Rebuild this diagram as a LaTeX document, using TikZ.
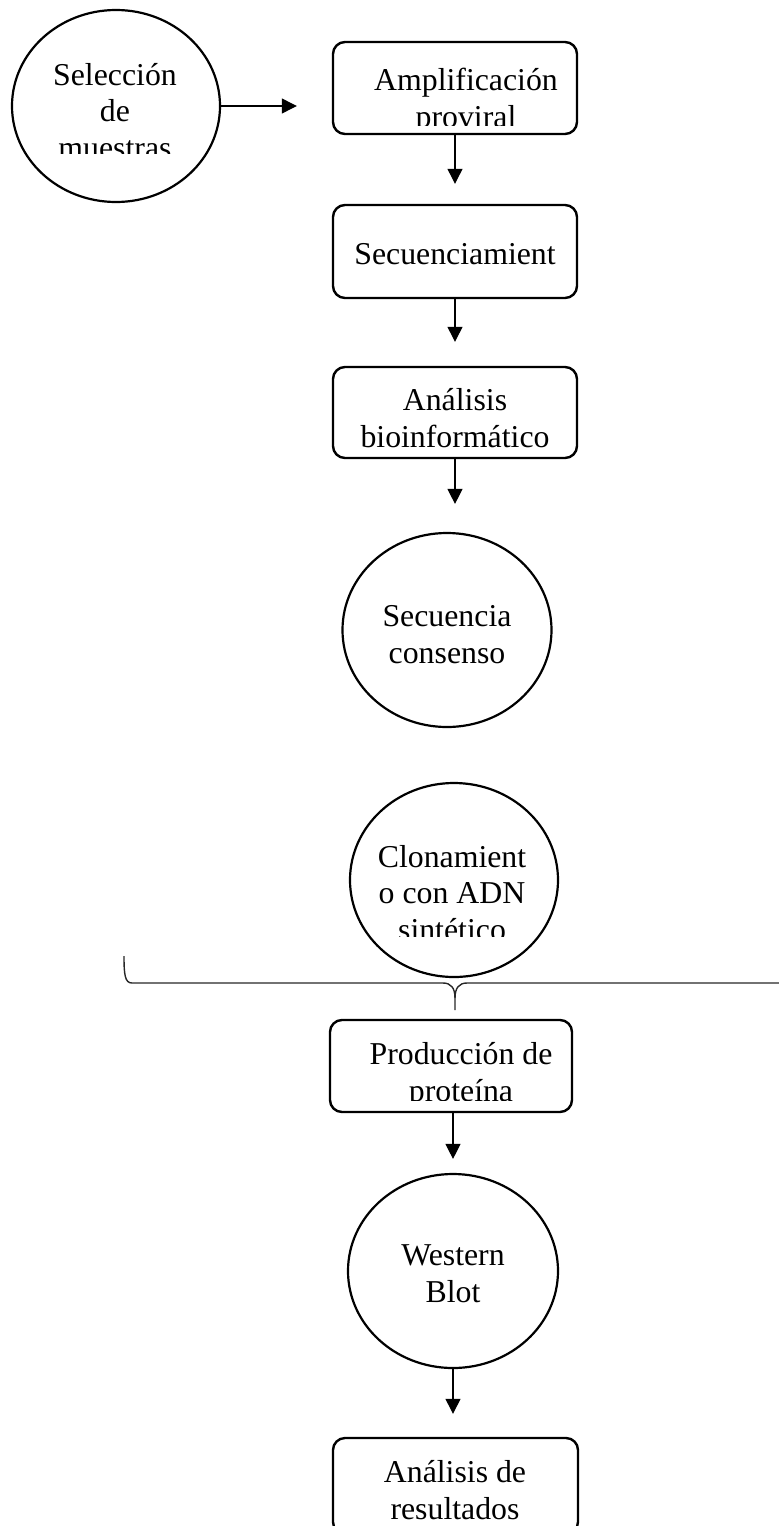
\documentclass[tikz,border=0pt]{standalone}
\usepackage{fontspec}
\setmainfont{Liberation Serif}
\usetikzlibrary{shapes.geometric,arrows.meta}
\begin{document}
\begin{tikzpicture}[x=0.5pt,y=-0.5pt,
  lbl/.style={align=center, inner sep=0pt, font=\fontsize{15.9}{18.4}\selectfont},
  oval/.style={draw, ellipse, line width=1.1pt, minimum width=104pt, minimum height=97pt, inner sep=0pt},
  procbox/.style={draw, rounded corners=6pt, line width=1.2pt, minimum width=122pt, minimum height=46pt, inner sep=0pt},
  arr/.style={line width=0.6pt, -{Triangle[width=7.5pt,length=7.5pt]}},
  bracestyle/.style={line width=0.7pt, draw=black!85}]
\useasboundingbox (0,0) rectangle (779,1526);
\clip (0,0) rectangle (779,1526);

% shapes
\node[oval, minimum height=96pt] (c1) at (116,106) {};
\node[procbox] (b1) at (455,88) {};
\node[procbox, minimum height=46.5pt] (b2) at (455,251.5) {};
\node[procbox, minimum height=45.5pt] (b3) at (455,412.5) {};
\node[oval, minimum width=104.5pt] (c2) at (447,630) {};
\node[oval] (c3) at (454,880) {};
\node[procbox, minimum width=121pt] (b4) at (451,1066) {};
\node[oval, minimum width=105pt] (c4) at (453,1271) {};
\node[procbox, minimum width=122.5pt, minimum height=48pt] (b5) at (455.5,1486) {};

% labels
\begin{scope}
  \clip (0,0) rectangle (779,153);
  \node[lbl] (t1) at (115,111) {Selección\\de\\muestras};
\end{scope}
\begin{scope}
  \clip (0,0) rectangle (779,125);
  \node[lbl] (t2) at (466,101) {Amplificación\\proviral};
\end{scope}
\node[lbl] (t3) at (455,254) {Secuenciamient};
\node[lbl] (t4) at (455,418) {Análisis\\bioinformático};
\node[lbl] (t5) at (447,635) {Secuencia\\consenso};
\begin{scope}
  \clip (0,700) rectangle (779,936);
  \node[lbl] (t6) at (452,893) {Clonamient\\o con ADN\\sintético};
\end{scope}
\begin{scope}
  \clip (0,1000) rectangle (779,1100);
  \node[lbl] (t7) at (461,1075) {Producción de\\proteína};
\end{scope}
\node[lbl] (t8) at (453,1274) {Western\\Blot};
\node[lbl] (t9) at (455,1490) {Análisis de\\resultados};

% connectors
\draw[arr, shorten >=17.5pt] (c1.east) -- (b1.west |- c1.east);
\draw[arr, shorten >=10pt] (b1.south) -- (b2.north);
\draw[arr, shorten >=12pt] (b2.south) -- (b3.north);
\draw[arr, shorten >=14pt] (b3.south) -- (b3.south |- c2.north);
\draw[arr, shorten >=7pt] (c4.north |- b4.south) -- (c4.north);
\draw[arr, shorten >=11.5pt] (c4.south) -- (c4.south |- b5.north);

% brace
\coordinate (brL) at (124,956);
\coordinate (brT) at (455,1010);
\coordinate (brR) at (800,983);
\draw[bracestyle] (brL) .. controls (124,975) and (125,983) .. (132,983) -- (443,983)
  .. controls (451,983) and (455,988) .. (455,998) -- (brT);
\draw[bracestyle] (brR) -- (467,983) .. controls (459,983) and (455,988) .. (455,998);
\end{tikzpicture}
\end{document}
